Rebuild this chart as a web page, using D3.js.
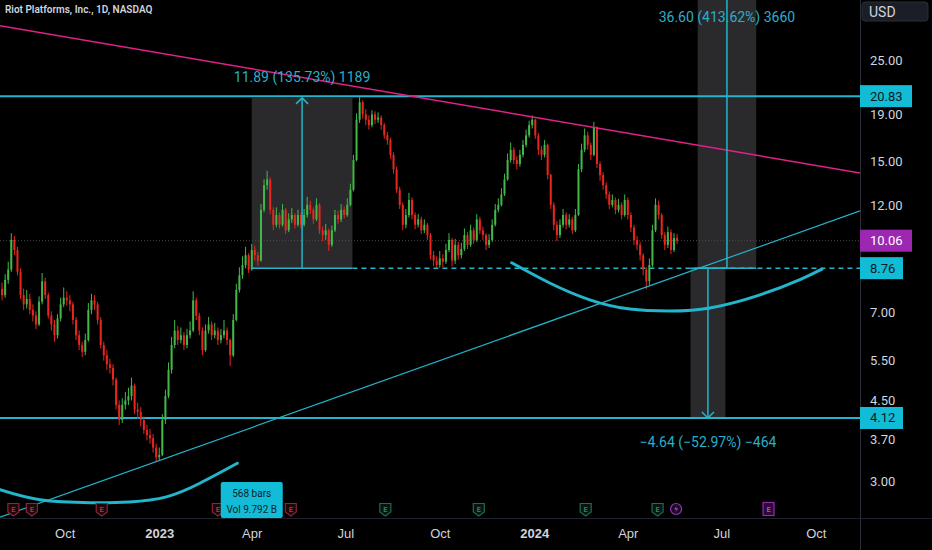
<!DOCTYPE html>
<html>
<head>
<meta charset="utf-8">
<script src="https://cdn.jsdelivr.net/npm/d3@7"></script>
<style>
  html, body { margin: 0; padding: 0; background: #000; }
  svg { display: block; font-family: Roboto, "Noto Sans", sans-serif; }
</style>
</head>
<body>
<div id="chart"></div>
<script>
// ---- data (1 bar = 3 calendar days) ----
var barStart = "2022-08-01", barStepDays = 3;
var opens = [7.90,7.65,8.26,8.70,10.10,9.60,8.60,7.65,7.30,7.50,7.10,6.90,6.60,7.40,8.20,7.65,6.90,6.60,6.25,6.80,
  7.30,7.55,7.45,7.30,6.75,6.25,5.95,5.75,6.10,7.10,7.45,7.30,6.75,5.95,5.65,5.40,5.30,5.00,4.40,4.08,
  4.40,4.50,4.60,4.85,4.30,4.25,4.08,3.88,3.78,3.72,3.55,3.38,3.42,4.08,4.60,5.25,5.95,6.40,6.10,6.25,
  5.95,6.25,6.40,7.45,6.90,6.40,5.80,6.40,6.60,6.25,6.40,6.10,6.25,6.40,6.10,5.65,6.75,7.85,8.45,8.90,
  9.35,8.70,9.60,9.35,9.10,11.75,13.30,13.70,11.75,10.90,11.45,10.90,11.75,10.60,11.20,11.45,10.90,11.45,10.90,11.45,
  12.05,11.75,11.20,12.05,10.60,10.35,10.60,9.85,10.60,11.45,11.20,11.75,11.45,12.05,13.00,15.10,18.50,20.20,19.00,18.50,
  18.00,19.00,18.50,18.70,18.00,17.10,16.70,15.50,14.40,13.00,12.05,10.90,11.45,12.35,11.45,10.90,11.20,10.60,10.90,10.35,
  9.35,9.10,8.90,9.20,9.05,9.60,10.10,9.10,9.85,9.35,9.65,10.35,9.85,10.60,10.10,11.20,10.60,10.35,9.85,10.10,
  10.90,11.75,12.05,12.70,13.70,15.10,15.90,15.10,14.80,15.50,16.30,17.10,18.00,18.50,17.10,15.90,15.50,16.30,14.00,12.05,
  10.90,10.35,10.90,11.45,10.90,11.20,10.60,11.45,14.40,15.90,17.10,16.30,15.50,17.80,14.80,14.00,13.30,12.70,12.05,12.35,
  11.75,12.05,11.45,12.35,11.45,10.75,10.10,9.85,9.35,8.70,8.20,8.90,10.60,12.05,11.45,10.35,9.85,10.50,9.60,10.20];
var highs = [8.15,8.50,9.05,10.45,10.30,9.75,8.75,7.90,7.85,7.70,7.30,7.05,7.60,8.55,8.35,7.75,7.05,6.75,6.95,7.55,
  7.95,7.80,7.65,7.40,6.85,6.40,6.05,6.30,7.35,7.70,7.65,7.40,6.85,6.05,5.80,5.55,5.40,5.05,4.50,4.55,
  4.70,4.80,5.05,4.90,4.45,4.35,4.15,3.98,3.90,3.80,3.62,3.55,4.20,4.75,5.45,6.20,6.75,6.55,6.50,6.35,
  6.45,6.70,7.80,7.55,7.00,6.50,6.60,6.85,6.70,6.65,6.50,6.45,6.75,6.50,6.15,6.95,8.10,8.80,9.30,9.75,
  9.45,9.90,9.80,9.50,12.10,13.70,14.30,13.85,11.90,11.90,11.60,12.10,11.85,11.55,11.85,11.55,11.75,11.60,11.80,12.55,
  12.30,11.90,12.45,12.15,10.80,10.95,10.70,10.85,11.75,11.70,12.10,11.95,12.45,13.40,15.50,19.10,20.85,20.40,19.50,18.90,
  19.40,19.30,19.20,18.90,18.20,17.40,16.90,15.70,14.60,13.20,12.20,11.80,12.80,12.50,11.60,11.50,11.35,11.20,11.00,10.45,
  9.55,9.30,9.55,9.40,9.90,10.45,10.20,10.15,10.00,9.95,10.70,10.50,10.90,10.75,11.50,11.35,10.80,10.45,10.40,11.20,
  12.10,12.45,13.10,14.10,15.60,16.50,16.10,15.40,15.90,16.70,17.60,18.40,18.90,18.60,17.30,16.20,16.70,16.40,14.10,12.20,
  11.10,11.20,11.80,11.60,11.50,11.35,11.80,14.80,16.40,17.70,17.40,16.50,18.30,17.90,15.00,14.20,13.50,12.90,12.70,12.50,
  12.40,12.20,12.70,12.50,11.60,10.90,10.30,10.00,9.45,8.80,9.20,10.90,12.45,12.30,11.55,10.50,10.80,10.65,10.45,10.40];
var lows = [7.45,7.55,8.10,8.60,9.35,8.45,7.50,7.10,7.15,6.95,6.70,6.45,6.55,7.30,7.50,6.80,6.40,6.05,6.15,6.70,
  7.20,7.25,7.05,6.60,6.10,5.80,5.60,5.65,6.05,6.95,7.10,6.60,5.85,5.50,5.25,5.15,4.85,4.30,3.98,4.02,
  4.30,4.40,4.50,4.20,4.10,3.95,3.80,3.68,3.62,3.46,3.30,3.32,3.40,4.00,4.55,5.15,5.85,5.95,6.00,5.80,
  5.85,6.15,6.35,6.75,6.25,5.65,5.75,6.30,6.10,6.15,5.95,6.00,6.15,5.95,5.35,5.60,6.70,7.75,8.30,8.75,
  8.55,8.65,9.10,8.85,9.05,11.60,13.00,11.50,10.60,10.75,10.70,10.80,10.40,10.50,11.00,10.70,10.80,10.70,10.80,11.30,
  11.50,10.95,11.10,10.40,10.05,10.10,9.55,9.75,10.50,10.95,11.05,11.25,11.35,11.95,12.90,15.00,18.20,18.60,18.00,17.60,
  17.80,18.10,18.20,17.60,16.80,16.30,15.20,14.10,12.80,11.80,10.60,10.70,11.30,11.20,10.65,10.75,10.40,10.45,10.10,9.15,
  8.85,8.76,8.78,8.80,8.95,9.50,8.85,8.95,9.15,9.20,9.55,9.65,9.75,9.90,10.00,10.40,10.10,9.60,9.70,10.00,
  10.80,11.60,11.95,12.60,13.60,14.90,14.80,14.40,14.60,15.30,16.10,16.90,17.70,16.80,15.50,15.10,15.30,13.70,11.80,10.60,
  10.05,10.20,10.75,10.65,10.75,10.40,10.50,11.40,14.20,15.70,15.90,15.10,15.40,14.50,13.60,13.00,12.40,11.80,11.90,11.50,
  11.60,11.20,11.35,11.20,10.50,9.85,9.60,9.10,8.45,7.88,8.05,8.80,10.50,11.20,10.15,9.60,9.70,9.40,9.50,9.90];
var closes = [7.65,8.26,8.70,10.10,9.60,8.60,7.65,7.30,7.50,7.10,6.90,6.60,7.40,8.20,7.65,6.90,6.60,6.25,6.80,7.30,
  7.55,7.45,7.30,6.75,6.25,5.95,5.75,6.10,7.10,7.45,7.30,6.75,5.95,5.65,5.40,5.30,5.00,4.40,4.08,4.40,
  4.50,4.60,4.85,4.30,4.25,4.08,3.88,3.78,3.72,3.55,3.38,3.42,4.08,4.60,5.25,5.95,6.40,6.10,6.25,5.95,
  6.25,6.40,7.45,6.90,6.40,5.80,6.40,6.60,6.25,6.40,6.10,6.25,6.40,6.10,5.65,6.75,7.85,8.45,8.90,9.35,
  8.70,9.60,9.35,9.10,11.75,13.30,13.70,11.75,10.90,11.45,10.90,11.75,10.60,11.20,11.45,10.90,11.45,10.90,11.45,12.05,
  11.75,11.20,12.05,10.60,10.35,10.60,9.85,10.60,11.45,11.20,11.75,11.45,12.05,13.00,15.10,18.50,20.20,19.00,18.50,18.00,
  19.00,18.50,18.70,18.00,17.10,16.70,15.50,14.40,13.00,12.05,10.90,11.45,12.35,11.45,10.90,11.20,10.60,10.90,10.35,9.35,
  9.10,8.90,9.20,9.05,9.60,10.10,9.10,9.85,9.35,9.65,10.35,9.85,10.60,10.10,11.20,10.60,10.35,9.85,10.10,10.90,
  11.75,12.05,12.70,13.70,15.10,15.90,15.10,14.80,15.50,16.30,17.10,18.00,18.50,17.10,15.90,15.50,16.30,14.00,12.05,10.90,
  10.35,10.90,11.45,10.90,11.20,10.60,11.45,14.40,15.90,17.10,16.30,15.50,17.80,14.80,14.00,13.30,12.70,12.05,12.35,11.75,
  12.05,11.45,12.35,11.45,10.75,10.10,9.85,9.35,8.70,8.20,8.90,10.60,12.05,11.45,10.35,9.85,10.50,9.60,10.20,10.06];

var lastPrice = 10.06;
var levels = [20.83, 8.76, 4.12];
var priceTicks = [25, 19, 15, 12, 7, 5.5, 4.5, 3.7, 3];
var timeTicks = ["2022-10-01", "2023-01-01", "2023-04-01", "2023-07-01", "2023-10-01", "2024-01-01", "2024-04-01", "2024-07-01", "2024-10-01"];
var timeTickLabels = ["Oct", "2023", "Apr", "Jul", "Oct", "2024", "Apr", "Jul", "Oct"];

var pinkLine = [["2022-07-30", 29.7], ["2024-11-13", 14.15]];
var supportLine = [["2022-07-30", 2.50], ["2024-11-13", 11.69]];
var cupRight = [["2023-12-10", 9.0], ["2024-01-16", 8.13], ["2024-02-24", 7.47], ["2024-04-03", 7.13], ["2024-05-12", 7.06],
  ["2024-06-20", 7.17], ["2024-08-07", 7.65], ["2024-09-15", 8.26], ["2024-10-07", 8.72]];
var cupLeft = [["2022-07-30", 2.87], ["2022-09-07", 2.73], ["2022-10-26", 2.69], ["2022-12-03", 2.70], ["2023-01-08", 2.77],
  ["2023-02-10", 2.97], ["2023-03-18", 3.28]];

// price range tools: [start, end, from price, to price, label]
var ranges = [
  ["2023-04-01", "2023-07-08", 8.76, 20.65, "11.89 (135.73%) 1189"],
  ["2024-06-08", "2024-08-04", 8.76, 45.36, "36.60 (413.62%) 3660"],
  ["2024-06-01", "2024-07-05", 8.76, 4.12, "\u22124.64 (\u221252.97%) \u2212464"]
];
var earningsRed = ["2022-08-12", "2022-08-30", "2022-11-06", "2023-02-27", "2023-05-09"];
var earningsGreen = ["2023-08-09", "2023-11-08", "2024-02-20", "2024-04-30"];
var splitDate = "2024-05-18", nextEarnings = "2024-08-16";
var barsInfo = ["568 bars", "Vol 9.792 B"], barsInfoDate = "2023-04-01";

// ---- chart ----
var width = 932, height = 550, plotW = 860, plotH = 518;
var parse = d3.timeParse("%Y-%m-%d");
var cyan = "#22b5cc", cyanText = "#2aaecb", pink = "#e0218a";

var svg = d3.select("#chart").append("svg").attr("width", width).attr("height", height);
svg.append("rect").attr("width", width).attr("height", height).attr("fill", "#000");

var x = d3.scaleTime().domain([parse("2022-07-30"), parse("2024-11-13")]).range([0, plotW]);
var y = d3.scaleLog().domain([2.49, 33.8]).range([plotH, 0]);

var start = parse(barStart);
var bars = closes.map(function (c, i) {
  return { date: d3.timeDay.offset(start, i * barStepDays), o: opens[i], h: highs[i], l: lows[i], c: c };
});

var plot = svg.append("g");
plot.append("clipPath").attr("id", "clip").append("rect").attr("width", plotW).attr("height", plotH);
var g = plot.append("g").attr("clip-path", "url(#clip)");

// range tool boxes
ranges.forEach(function (r) {
  var x0 = x(parse(r[0])), x1 = x(parse(r[1])), ya = y(r[2]), yb = y(r[3]);
  g.append("rect").attr("x", x0).attr("width", x1 - x0)
    .attr("y", Math.min(ya, yb)).attr("height", Math.abs(ya - yb)).attr("fill", "#2a2a2c");
});

// last price dotted line
g.append("line").attr("x1", 0).attr("x2", plotW).attr("y1", y(lastPrice)).attr("y2", y(lastPrice))
  .attr("stroke", "#4a4a4a").attr("stroke-dasharray", "1,2");

// horizontal levels
g.append("line").attr("x1", 0).attr("x2", plotW).attr("y1", y(levels[0])).attr("y2", y(levels[0]))
  .attr("stroke", cyan).attr("stroke-width", 2);
g.append("line").attr("x1", 0).attr("x2", plotW).attr("y1", y(levels[2])).attr("y2", y(levels[2]))
  .attr("stroke", cyan).attr("stroke-width", 2);
g.append("line").attr("x1", x(parse(ranges[0][1]))).attr("x2", plotW).attr("y1", y(levels[1])).attr("y2", y(levels[1]))
  .attr("stroke", cyan).attr("stroke-width", 1.5).attr("stroke-dasharray", "5,4");

// candles
var bw = 2;
var candle = g.append("g").selectAll("g").data(bars).enter().append("g");
candle.append("line")
  .attr("x1", function (d) { return x(d.date); }).attr("x2", function (d) { return x(d.date); })
  .attr("y1", function (d) { return y(d.h); }).attr("y2", function (d) { return y(d.l); })
  .attr("stroke", function (d) { return d.c >= d.o ? "#43b84a" : "#e8261f"; }).attr("stroke-width", 1);
candle.append("rect")
  .attr("x", function (d) { return x(d.date) - bw / 2; }).attr("width", bw)
  .attr("y", function (d) { return y(Math.max(d.o, d.c)); })
  .attr("height", function (d) { return Math.max(1, Math.abs(y(d.o) - y(d.c))); })
  .attr("fill", function (d) { return d.c >= d.o ? "#43b84a" : "#e8261f"; });

// trend lines
var line = d3.line().x(function (d) { return x(parse(d[0])); }).y(function (d) { return y(d[1]); });
g.append("path").attr("d", line(pinkLine)).attr("fill", "none").attr("stroke", pink).attr("stroke-width", 1.5);
g.append("path").attr("d", line(supportLine)).attr("fill", "none").attr("stroke", cyan).attr("stroke-width", 1.2);

// cups
var curve = d3.line().curve(d3.curveNatural).x(function (d) { return x(parse(d[0])); }).y(function (d) { return y(d[1]); });
[cupRight, cupLeft].forEach(function (pts) {
  g.append("path").attr("d", curve(pts)).attr("fill", "none").attr("stroke", cyan)
    .attr("stroke-width", 3).attr("stroke-linecap", "round");
});

// range tool arrows + labels
ranges.forEach(function (r) {
  var x0 = x(parse(r[0])), x1 = x(parse(r[1])), xm = (x0 + x1) / 2, ya = y(r[2]), yb = y(r[3]);
  var up = r[3] > r[2];
  g.append("line").attr("x1", x0).attr("x2", x1).attr("y1", ya).attr("y2", ya).attr("stroke", cyan).attr("stroke-width", 1.5);
  g.append("line").attr("x1", xm).attr("x2", xm).attr("y1", ya).attr("y2", yb).attr("stroke", cyan).attr("stroke-width", 1.5);
  var s = up ? 1 : -1;
  g.append("path").attr("d", "M" + (xm - 6) + "," + (yb + 6 * s) + "L" + xm + "," + yb + "L" + (xm + 6) + "," + (yb + 6 * s))
    .attr("fill", "none").attr("stroke", cyan).attr("stroke-width", 1.5);
  var ty = up ? Math.max(22, yb - 16) : yb + 29;
  svg.append("text").attr("x", xm).attr("y", ty).attr("text-anchor", "middle")
    .attr("fill", cyanText).attr("font-size", 14).text(r[4]);
});

// earnings markers
var ey = 510;
function shield(xc, stroke, fill, txt) {
  var m = svg.append("g").attr("transform", "translate(" + xc + "," + ey + ")");
  m.append("path").attr("d", "M-5.5,-6.5h11v8.5l-5.5,4l-5.5,-4z").attr("fill", fill).attr("stroke", stroke).attr("stroke-width", 1.2);
  m.append("text").attr("y", 2).attr("text-anchor", "middle").attr("font-size", 7.5).attr("font-weight", 600)
    .attr("fill", txt).text("E");
}
earningsRed.forEach(function (d) { shield(x(parse(d)), "#8e2437", "#1c070b", "#b8354b"); });
earningsGreen.forEach(function (d) { shield(x(parse(d)), "#1d6b57", "#06150f", "#2a8a70"); });
var sp = svg.append("g").attr("transform", "translate(" + x(parse(splitDate)) + "," + (ey - 1) + ")");
sp.append("circle").attr("r", 5.5).attr("fill", "#1c0a24").attr("stroke", "#8e3bb0").attr("stroke-width", 1.2);
sp.append("path").attr("d", "M1,-4L-2,0.5H0.5L-1,4L2.2,-0.8H-0.3Z").attr("fill", "#a54bc9");
var ne = svg.append("g").attr("transform", "translate(" + x(parse(nextEarnings)) + "," + (ey - 1) + ")");
ne.append("rect").attr("x", -5.5).attr("y", -6.5).attr("width", 11).attr("height", 13).attr("fill", "#2a0a36")
  .attr("stroke", "#9c27b0").attr("stroke-width", 1.2);
ne.append("text").attr("y", 3).attr("text-anchor", "middle").attr("font-size", 7.5).attr("font-weight", 600)
  .attr("fill", "#c145dd").text("E");

// bars info box
var bx = x(parse(barsInfoDate));
svg.append("rect").attr("x", bx - 31).attr("y", 482).attr("width", 62).attr("height", 36).attr("rx", 2).attr("fill", "#12bcd6");
svg.append("text").attr("x", bx).attr("y", 497).attr("text-anchor", "middle").attr("font-size", 10).attr("fill", "#10232b").text(barsInfo[0]);
svg.append("text").attr("x", bx).attr("y", 513).attr("text-anchor", "middle").attr("font-size", 10).attr("fill", "#10232b").text(barsInfo[1]);

// title
svg.append("text").attr("x", 5).attr("y", 13).attr("font-size", 10).attr("font-weight", 600)
  .attr("fill", "#d1d4dc").text("Riot Platforms, Inc., 1D, NASDAQ");

// axes
svg.append("line").attr("x1", plotW + 0.5).attr("x2", plotW + 0.5).attr("y1", 0).attr("y2", height).attr("stroke", "#2a2e39");
svg.append("line").attr("x1", 0).attr("x2", width).attr("y1", plotH + 0.5).attr("y2", plotH + 0.5).attr("stroke", "#1e222d");

var xAxis = svg.append("g").attr("transform", "translate(0," + plotH + ")")
  .call(d3.axisBottom(x).tickValues(timeTicks.map(parse)).tickSize(0).tickPadding(11)
    .tickFormat(function (d, i) { return timeTickLabels[i]; }));
xAxis.select(".domain").remove();
xAxis.selectAll("text").attr("fill", "#d1d4dc").attr("font-size", 13)
  .attr("font-weight", function (d, i) { return /^\d{4}$/.test(timeTickLabels[i]) ? 700 : 400; });

var yAxis = svg.append("g").attr("transform", "translate(" + plotW + ",0)")
  .call(d3.axisRight(y).tickValues(priceTicks).tickSize(0).tickPadding(10).tickFormat(d3.format(".2f")));
yAxis.select(".domain").remove();
yAxis.selectAll("text").attr("fill", "#d1d4dc").attr("font-size", 13).attr("font-family", "Roboto, sans-serif");

// level labels on the price axis
function tag(price, bg, fg, w) {
  var yy = y(price);
  svg.append("rect").attr("x", plotW).attr("y", yy - 11).attr("width", w).attr("height", 22).attr("fill", bg);
  svg.append("text").attr("x", plotW + 10).attr("y", yy + 4.5).attr("font-size", 13).attr("fill", fg).text(price.toFixed(2));
}
tag(levels[0], "#12bcd6", "#0b1a20", 52);
tag(levels[1], "#12bcd6", "#0b1a20", 43);
tag(levels[2], "#12bcd6", "#0b1a20", 43);
tag(lastPrice, "#9c27b0", "#ffffff", 52);

// currency box
svg.append("rect").attr("x", 862).attr("y", 2).attr("width", 66).attr("height", 19).attr("rx", 3)
  .attr("fill", "#1b1e26").attr("stroke", "#2a2e39");
svg.append("text").attr("x", 869).attr("y", 16.5).attr("font-size", 14).attr("fill", "#d1d4dc").text("USD");
</script>
</body>
</html>
